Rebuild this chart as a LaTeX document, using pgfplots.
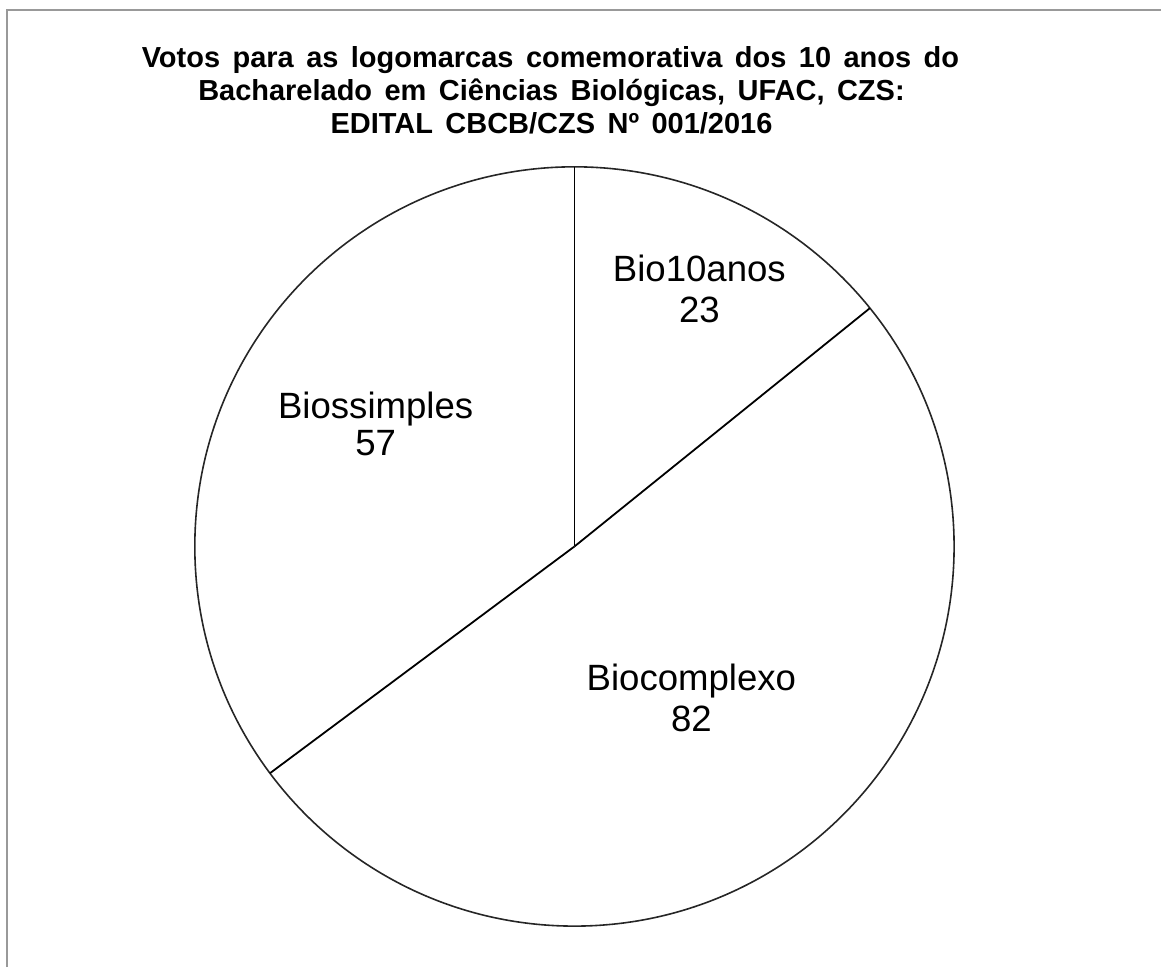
\documentclass[border=0pt]{standalone}
\usepackage{pgfplots}
\usepackage{pgfplotstable}
\pgfplotsset{compat=1.18}
\usepackage{fontspec}
\setmainfont{Liberation Sans}
\newfontfamily\titlefont[WordSpace=1.55]{Liberation Sans}

\pgfplotstableread{
label value
Bio10anos 23
Biocomplexo 82
Biossimples 57
}\votes

\begin{document}
\begin{tikzpicture}
\pgfplotstablegetelem{0}{value}\of\votes \edef\va{\pgfplotsretval}
\pgfplotstablegetelem{1}{value}\of\votes \edef\vb{\pgfplotsretval}
\pgfplotstablegetelem{2}{value}\of\votes \edef\vc{\pgfplotsretval}
\pgfmathsetmacro\tot{\va+\vb+\vc}
\pgfmathsetmacro\aS{90}
\pgfmathsetmacro\aA{90-(\va/\tot)*360}
\pgfmathsetmacro\aB{\aA-(\vb/\tot)*360}
\def\cx{575}\def\cy{421}\def\rr{380}
\begin{axis}[
  scale only axis, width=581pt, height=484pt,
  xmin=0, xmax=1162, ymin=0, ymax=968,
  hide axis, clip=false,
]
% full canvas as bounding box
\path (axis cs:0,0) rectangle (axis cs:1162,968);
% frame (top and left edges visible)
\draw[line width=1.1pt, color=black!40] (axis cs:7,0) -- (axis cs:7,958) -- (axis cs:1162,958);
% pie
\draw[line width=0.8pt, black!85] (axis cs:\cx,\cy) circle[radius=\rr];
\draw[line width=0.9pt, black] (axis cs:\cx,\cy) -- (axis cs:{\cx+\rr*cos(\aS)},{\cy+\rr*sin(\aS)});
\draw[line width=0.9pt, black] (axis cs:\cx,\cy) -- (axis cs:{\cx+\rr*cos(\aA)},{\cy+\rr*sin(\aA)});
\draw[line width=0.9pt, black] (axis cs:\cx,\cy) -- (axis cs:{\cx+\rr*cos(\aB)},{\cy+\rr*sin(\aB)});
% title
\begin{scope}[every node/.style={anchor=base, inner sep=0pt, font=\titlefont\bfseries\fontsize{14.5}{17}\selectfont}]
\node at (axis cs:551,900) {Votos para as logomarcas comemorativa dos 10 anos do};
\node at (axis cs:552,867) {Bacharelado em Ciências Biológicas, UFAC, CZS:};
\node at (axis cs:552,834) {EDITAL CBCB/CZS Nº 001/2016};
\end{scope}
% labels
\begin{scope}[every node/.style={anchor=base, inner sep=0pt, font=\fontsize{18.3}{22}\selectfont}]
\node at (axis cs:700,686) {Bio10anos};
\node at (axis cs:700,645) {\va};
\node at (axis cs:692,277) {Biocomplexo};
\node at (axis cs:692,236) {\vb};
\node at (axis cs:376,549) {Biossimples};
\node at (axis cs:376,512) {\vc};
\end{scope}
\end{axis}
\end{tikzpicture}
\end{document}
